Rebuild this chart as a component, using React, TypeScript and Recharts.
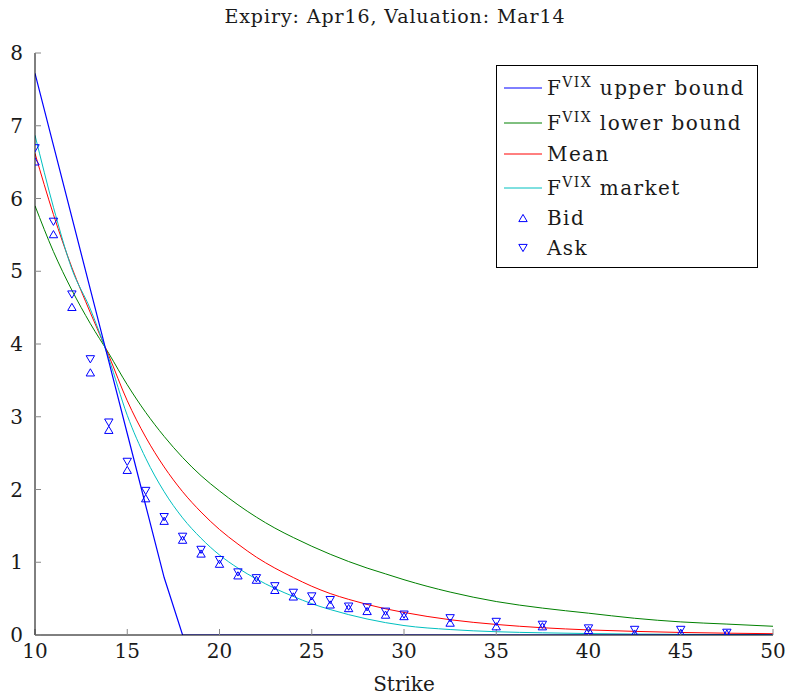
import React from "react";
import {
  ComposedChart,
  Line,
  Scatter,
  XAxis,
  YAxis,
  Legend,
  Label,
} from "recharts";

const FONT = "'DejaVu Serif', serif";

const strikes = [
  10, 11, 12, 13, 14, 15, 16, 17, 18, 19, 20, 21, 22, 23, 24, 25, 26, 27, 28, 29, 30,
  32.5, 35, 37.5, 40, 42.5, 45, 47.5, 50,
];
const upperBound = [
  7.72, 6.73, 5.74, 4.75, 3.76, 2.77, 1.78, 0.79, 0, 0, 0, 0, 0, 0, 0, 0, 0, 0, 0, 0, 0,
  0, 0, 0, 0, 0, 0, 0, 0,
];
const lowerBound = [
  5.9, 5.27, 4.74, 4.28, 3.87, 3.44, 3.06, 2.73, 2.44, 2.19, 1.98, 1.79, 1.62, 1.47, 1.34,
  1.22, 1.11, 1.01, 0.92, 0.84, 0.76, 0.59, 0.46, 0.37, 0.3, 0.23, 0.18, 0.15, 0.12,
];
const mean = [
  6.62, 5.78, 5.05, 4.43, 3.84, 3.22, 2.72, 2.31, 1.97, 1.69, 1.45, 1.25, 1.07, 0.92,
  0.79, 0.67, 0.57, 0.49, 0.42, 0.36, 0.31, 0.21, 0.145, 0.1, 0.07, 0.05, 0.035, 0.025,
  0.018,
];
const market = [
  6.87, 5.88, 5.03, 4.48, 3.8, 3.02, 2.43, 1.97, 1.61, 1.33, 1.1, 0.92, 0.77, 0.64, 0.53,
  0.43, 0.35, 0.28, 0.22, 0.17, 0.13, 0.075, 0.045, 0.03, 0.02, 0.013, 0.009, 0.006,
  0.004,
];

const quoteStrikes = [
  10, 11, 12, 13, 14, 15, 16, 17, 18, 19, 20, 21, 22, 23, 24, 25, 26, 27, 28, 29, 30,
  32.5, 35, 37.5, 40, 42.5, 45, 47.5,
];
const bid = [
  6.51, 5.51, 4.51, 3.61, 2.82, 2.27, 1.88, 1.57, 1.31, 1.12, 0.98, 0.82, 0.76, 0.62,
  0.53, 0.47, 0.42, 0.37, 0.33, 0.28, 0.26, 0.17, 0.12, 0.12, 0.07, 0.02, 0.03, 0.02,
];
const ask = [
  6.69, 5.68, 4.68, 3.79, 2.92, 2.38, 1.98, 1.62, 1.35, 1.17, 1.03, 0.86, 0.78, 0.67,
  0.58, 0.53, 0.48, 0.39, 0.38, 0.32, 0.28, 0.23, 0.18, 0.14, 0.09, 0.07, 0.07, 0.03,
];

const xTicks = [10, 15, 20, 25, 30, 35, 40, 45, 50];
const yTicks = [0, 1, 2, 3, 4, 5, 6, 7, 8];

const BLUE = "#0000ff";
const GREEN = "#008000";
const RED = "#ff0000";
const CYAN = "#00c0c0";
const INK = "#1a1a1a";

const lineRows = strikes.map((s, i) => ({
  strike: s,
  upper: upperBound[i],
  lower: lowerBound[i],
  mean: mean[i],
  market: market[i],
}));
const bidRows = quoteStrikes.map((s, i) => ({ strike: s, bid: bid[i] }));
const askRows = quoteStrikes.map((s, i) => ({ strike: s, ask: ask[i] }));

function Tri({ cx, cy, down }: { cx: number; cy: number; down?: boolean }) {
  const h = 3.6;
  const w = 4.2;
  const pts = down
    ? `${cx},${cy + h} ${cx - w},${cy - h} ${cx + w},${cy - h}`
    : `${cx},${cy - h} ${cx - w},${cy + h} ${cx + w},${cy + h}`;
  return <polygon points={pts} fill="none" stroke={BLUE} strokeWidth={1} />;
}

const legendItems = [
  { key: "upper", kind: "line", color: BLUE, sup: true, text: "upper bound", h: 29 },
  { key: "lower", kind: "line", color: GREEN, sup: true, text: "lower bound", h: 35 },
  { key: "mean", kind: "line", color: RED, sup: false, text: "Mean", h: 31 },
  { key: "market", kind: "line", color: CYAN, sup: true, text: "market", h: 34 },
  { key: "bid", kind: "up", color: BLUE, sup: false, text: "Bid", h: 30 },
  { key: "ask", kind: "down", color: BLUE, sup: false, text: "Ask", h: 30 },
];

function LegendBox() {
  return (
    <div
      style={{
        border: "1px solid #000",
        background: "#fff",
        width: 262,
        height: 203,
        boxSizing: "border-box",
        padding: "5px 0 0 6px",
        fontFamily: FONT,
        fontSize: 20,
        letterSpacing: 1.4,
        color: INK,
      }}
    >
      {legendItems.map((it) => (
        <div
          key={it.key}
          style={{ display: "flex", alignItems: "flex-end", height: it.h }}
        >
          <svg width={44} height={20} style={{ flex: "none", marginBottom: 2 }}>
            {it.kind === "line" ? (
              <line x1={1} x2={39} y1={10} y2={10} stroke={it.color} strokeWidth={1} />
            ) : (
              <Tri cx={20} cy={10} down={it.kind === "down"} />
            )}
          </svg>
          <span style={{ whiteSpace: "nowrap", lineHeight: "24px" }}>
            {it.sup ? (
              <>
                F<sup style={{ fontSize: 14, verticalAlign: 8 }}>VIX</sup>{" "}
              </>
            ) : null}
            {it.text}
          </span>
        </div>
      ))}
    </div>
  );
}

export default function App() {
  const tickStyle = { fontFamily: FONT, fontSize: 20, fill: INK };
  return (
    <div style={{ position: "absolute", left: 0, top: 0, width: 786, height: 698 }}>
      <div
        style={{
          position: "absolute",
          left: 0,
          width: 790,
          top: 6,
          textAlign: "center",
          fontFamily: FONT,
          fontSize: 19,
          letterSpacing: 0.9,
          lineHeight: "20px",
          color: INK,
        }}
      >
        Expiry: Apr16, Valuation: Mar14
      </div>
      <ComposedChart
        width={786}
        height={698}
        margin={{ top: 53, right: 13, bottom: 33, left: 5 }}
      >
        <XAxis
          xAxisId={0}
          type="number"
          dataKey="strike"
          domain={[10, 50]}
          ticks={xTicks}
          allowDataOverflow
          height={30}
          tickSize={-6}
          tickMargin={15}
          tick={tickStyle}
          tickLine={{ stroke: "#888" }}
          axisLine={{ stroke: "#000" }}
        >
          <Label
            value="Strike"
            position="bottom"
            offset={12}
            style={{ fontFamily: FONT, fontSize: 20, fill: INK }}
          />
        </XAxis>
        <XAxis
          xAxisId="top"
          orientation="top"
          type="number"
          dataKey="strike"
          domain={[10, 50]}
          ticks={xTicks}
          height={0}
          tick={false}
          tickSize={-6}
          tickLine={{ stroke: "#888" }}
          axisLine={{ stroke: "#000" }}
        />
        <YAxis
          yAxisId={0}
          type="number"
          domain={[0, 8]}
          ticks={yTicks}
          allowDataOverflow
          width={30}
          tickSize={-6}
          tickMargin={18}
          tick={tickStyle}
          tickLine={{ stroke: "#888" }}
          axisLine={{ stroke: "#000" }}
        />
        <YAxis
          yAxisId="right"
          orientation="right"
          type="number"
          domain={[0, 8]}
          ticks={yTicks}
          width={0}
          tick={false}
          tickSize={-6}
          tickLine={{ stroke: "#888" }}
          axisLine={{ stroke: "#000" }}
        />
        <Line
          data={lineRows}
          dataKey="lower"
          type="monotone"
          stroke={GREEN}
          strokeWidth={1}
          dot={false}
          isAnimationActive={false}
        />
        <Line
          data={lineRows}
          dataKey="mean"
          type="monotone"
          stroke={RED}
          strokeWidth={1}
          dot={false}
          isAnimationActive={false}
        />
        <Line
          data={lineRows}
          dataKey="market"
          type="monotone"
          stroke={CYAN}
          strokeWidth={1}
          dot={false}
          isAnimationActive={false}
        />
        <Line
          data={lineRows}
          dataKey="upper"
          type="linear"
          stroke={BLUE}
          strokeWidth={1.2}
          dot={false}
          isAnimationActive={false}
        />
        <Scatter
          data={bidRows}
          dataKey="bid"
          isAnimationActive={false}
          shape={(p: any) => <Tri cx={p.cx} cy={p.cy} />}
        />
        <Scatter
          data={askRows}
          dataKey="ask"
          isAnimationActive={false}
          shape={(p: any) => <Tri cx={p.cx} cy={p.cy} down />}
        />
        <Legend
          layout="horizontal"
          verticalAlign="middle"
          align="center"
          wrapperStyle={{ left: 496, top: 65, width: 262 }}
          content={() => <LegendBox />}
        />
      </ComposedChart>
    </div>
  );
}
